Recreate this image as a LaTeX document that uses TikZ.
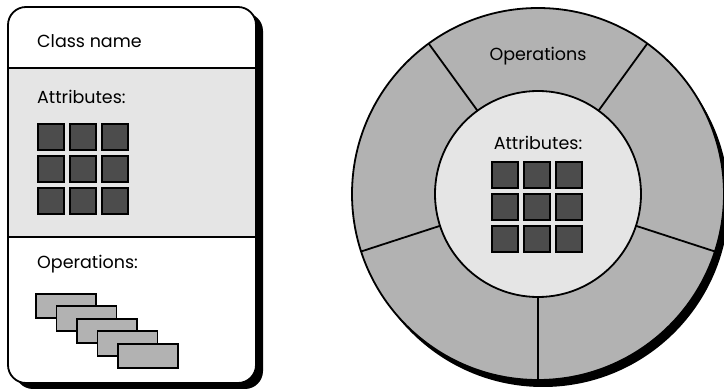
\documentclass[tikz,border=0pt]{standalone}
\usepackage{fontspec}
\setmainfont{Poppins}
\usetikzlibrary{calc}
\begin{document}
\begin{tikzpicture}[x=1pt,y=-1pt,
  lbl/.style={inner sep=0pt, font=\fontsize{17.5}{21}\selectfont},
  sq/.style={draw=black, line width=1.8pt, fill=sqgray, minimum size=26.2pt, inner sep=0pt},
  oprect/.style={draw=black, line width=1.8pt, fill=midgray, minimum width=60pt, minimum height=24.5pt, inner sep=0pt},
  outline/.style={draw=black, line width=1.8pt}]
\definecolor{lightgray}{gray}{0.9}
\definecolor{midgray}{gray}{0.7}
\definecolor{sqgray}{gray}{0.3}
\useasboundingbox (0,0) rectangle (724,390);
% ---------- left class box ----------
\fill[black, rounded corners=18pt] (15,13) rectangle (263,389);
\fill[white, rounded corners=18pt] (8,7) rectangle (256,383);
\fill[lightgray] (8,68) rectangle (256,237);
\draw[outline, rounded corners=18pt] (8,7) rectangle (256,383);
\coordinate (s1l) at (8,68); \coordinate (s1r) at (256,68);
\coordinate (s2l) at (8,237); \coordinate (s2r) at (256,237);
\draw[outline] (s1l) -- (s1r);
\draw[outline] (s2l) -- (s2r);
\node[lbl, anchor=west] (cname) at (37,41) {Class name};
\node[lbl, anchor=west] (lattr) at (37,97) {Attributes:};
\node[lbl, anchor=west] (lops) at (37,264) {Operations:};
\foreach \r in {0,1,2}{
  \foreach \c in {0,1,2}{
    \node[sq] (la\r\c) at (51+32*\c,137+32*\r) {};
  }
}
\foreach \i in {0,...,4}{
  \node[oprect] (op\i) at (66+20.5*\i,306+12.5*\i) {};
}
% ---------- right circle ----------
\coordinate (cc) at (538,194);
\fill[black] (543,201) circle (186);
\draw[outline, fill=midgray] (cc) circle (186);
\draw[outline, fill=lightgray] (cc) circle (103);
\foreach \a in {306,234,162,90,18}{
  \draw[outline] ($(cc)+(\a:103)$) -- ($(cc)+(\a:186)$);
}
\node[lbl] (rops) at (538,56) {Operations};
\node[lbl] (rattr) at (538,143) {Attributes:};
\foreach \r in {0,1,2}{
  \foreach \c in {0,1,2}{
    \node[sq] (ra\r\c) at (505+32*\c,175+32*\r) {};
  }
}
\end{tikzpicture}
\end{document}
